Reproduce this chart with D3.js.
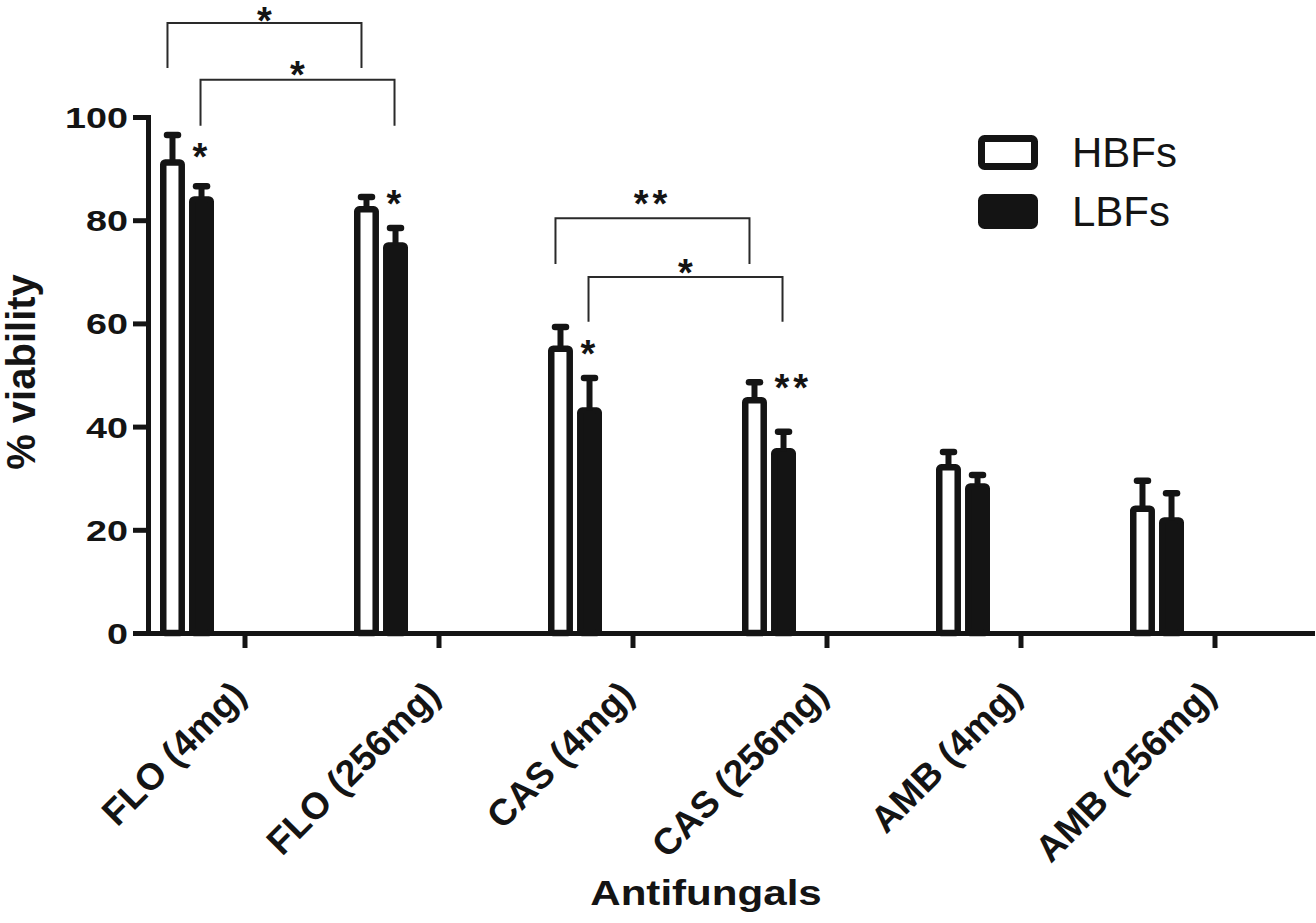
<!DOCTYPE html>
<html>
<head>
<meta charset="utf-8">
<script src="https://cdn.jsdelivr.net/npm/d3@7"></script>
<style>
  html, body { margin: 0; padding: 0; background: #ffffff; }
  svg { display: block; }
  text { font-family: Arial, "Liberation Sans", Helvetica, sans-serif; fill: #141414; }
</style>
</head>
<body>
<svg id="chart" width="1316" height="923"></svg>
<script>
// ---- data ----
const categories = ["FLO (4mg)", "FLO (256mg)", "CAS (4mg)", "CAS (256mg)", "AMB (4mg)", "AMB (256mg)"];
const seriesNames = ["HBFs", "LBFs"];
const hbfMeans  = [91.2, 82.1, 55.1, 45.1, 32.1, 24.1];
const hbfErrors = [5.3, 2.4, 4.2, 3.5, 3.0, 5.4];
const lbfMeans  = [84.0, 75.1, 43.1, 35.2, 28.4, 21.8];
const lbfErrors = [2.6, 3.4, 6.3, 3.8, 2.2, 5.3];
const yTicks = [0, 20, 40, 60, 80, 100];
const yTitle = "% viability";
const xTitle = "Antifungals";

// significance brackets (levels in % viability units)
const bracketFrom   = [["FLO (4mg)", "HBFs"], ["FLO (4mg)", "LBFs"], ["CAS (4mg)", "HBFs"], ["CAS (4mg)", "LBFs"]];
const bracketTo     = [["FLO (256mg)", "HBFs"], ["FLO (256mg)", "LBFs"], ["CAS (256mg)", "HBFs"], ["CAS (256mg)", "LBFs"]];
const bracketTop    = [118.2, 107.2, 80.4, 69.0];
const bracketBottom = [109.5, 98.3, 71.5, 60.3];
const bracketLabels = ["*", "*", "**", "*"];
const bracketLabelLevel = [120.2, 109.7, 84.7, 71.5];

// stars next to the LBF bars
const starCategories = ["FLO (4mg)", "FLO (256mg)", "CAS (4mg)", "CAS (256mg)"];
const starLabels = ["*", "*", "*", "**"];
const starLevels = [93.8, 84.7, 55.8, 49.2];

// ---- build rows ----
const rows = categories.map((c, i) => ({
  category: c,
  values: [
    { series: "HBFs", mean: hbfMeans[i], err: hbfErrors[i] },
    { series: "LBFs", mean: lbfMeans[i], err: lbfErrors[i] }
  ]
}));

const ink = "#141414";
const svg = d3.select("#chart");

const x0 = d3.scaleBand().domain(categories).range([148, 1312]);
const x1 = d3.scaleBand().domain(seriesNames).range([12, 66]).paddingInner(0.14);
const y = d3.scaleLinear().domain([0, 100]).range([633, 117]);

const barStroke = 6.5;
const bw = x1.bandwidth();
const cx = (cat, s) => x0(cat) + x1(s) + bw / 2;

// ---- bars ----
const groups = svg.append("g").selectAll("g")
  .data(rows).join("g")
  .attr("transform", d => `translate(${x0(d.category)},0)`);

groups.selectAll("rect")
  .data(d => d.values).join("rect")
  .attr("x", d => x1(d.series) + barStroke / 2)
  .attr("width", bw - barStroke)
  .attr("y", d => y(d.mean))
  .attr("height", d => y(0) - y(d.mean))
  .attr("rx", 2)
  .attr("fill", d => d.series === "HBFs" ? "#ffffff" : ink)
  .attr("stroke", ink)
  .attr("stroke-width", barStroke);

// ---- error bars (upper only) ----
groups.selectAll("line.err")
  .data(d => d.values).join("line")
  .attr("class", "err")
  .attr("x1", d => x1(d.series) + bw / 2)
  .attr("x2", d => x1(d.series) + bw / 2)
  .attr("y1", d => y(d.mean))
  .attr("y2", d => y(d.mean + d.err))
  .attr("stroke", ink)
  .attr("stroke-width", 6);

groups.selectAll("line.cap")
  .data(d => d.values).join("line")
  .attr("class", "cap")
  .attr("x1", d => x1(d.series) + bw / 2 - 5.5)
  .attr("x2", d => x1(d.series) + bw / 2 + 5.5)
  .attr("y1", d => y(d.mean + d.err))
  .attr("y2", d => y(d.mean + d.err))
  .attr("stroke", ink)
  .attr("stroke-width", 6.5)
  .attr("stroke-linecap", "round");

// ---- axes ----
const yAxis = svg.append("g")
  .attr("transform", "translate(148,0)")
  .call(d3.axisLeft(y).tickValues(yTicks).tickSize(15).tickSizeOuter(0));
yAxis.select(".domain").attr("stroke", ink).attr("stroke-width", 5).attr("stroke-linecap", "square");
yAxis.selectAll(".tick line").attr("stroke", ink).attr("stroke-width", 5);
yAxis.selectAll(".tick text")
  .attr("fill", ink)
  .attr("font-size", 29)
  .attr("font-weight", "bold")
  .attr("text-anchor", "end")
  .attr("dy", null)
  .attr("x", -20 / 1.3)
  .attr("y", 10.5)
  .attr("transform", "scale(1.3,1)");

const xAxis = svg.append("g")
  .attr("transform", "translate(0,633)")
  .call(d3.axisBottom(x0).tickSize(15).tickSizeOuter(0));
xAxis.select(".domain").attr("stroke", ink).attr("stroke-width", 5).attr("stroke-linecap", "square");
xAxis.selectAll(".tick line").attr("stroke", ink).attr("stroke-width", 5);
xAxis.selectAll(".tick text").remove();

svg.append("g").selectAll("text")
  .data(categories).join("text")
  .attr("transform", d => `translate(${x0(d) + x0.bandwidth() / 2 + 3},697) rotate(-45)`)
  .attr("text-anchor", "end")
  .attr("font-size", 37)
  .attr("font-weight", "bold")
  .text(d => d);

// axis titles
svg.append("text")
  .attr("transform", "translate(706,905) scale(1.17,1)")
  .attr("text-anchor", "middle")
  .attr("font-size", 36)
  .attr("font-weight", "bold")
  .text(xTitle);

svg.append("text")
  .attr("transform", "translate(35,372) rotate(-90)")
  .attr("text-anchor", "middle")
  .attr("font-size", 40)
  .attr("font-weight", "bold")
  .text(yTitle);

// ---- significance brackets ----
const starSize = 38;
const bracketG = svg.append("g");
bracketLabels.forEach((lab, i) => {
  const f = bracketFrom[i], t = bracketTo[i];
  const off = s => s === "HBFs" ? -5 : -1;
  const xa = cx(f[0], f[1]) + off(f[1]);
  const xb = cx(t[0], t[1]) + off(t[1]);
  const line = d3.line();
  bracketG.append("path")
    .attr("d", line([[xa, y(bracketBottom[i])], [xa, y(bracketTop[i])], [xb, y(bracketTop[i])], [xb, y(bracketBottom[i])]]))
    .attr("fill", "none")
    .attr("stroke", "#2a2a2a")
    .attr("stroke-width", 2);
  bracketG.append("text")
    .attr("x", (xa + xb) / 2)
    .attr("y", y(bracketLabelLevel[i]) + 0.565 * starSize)
    .attr("text-anchor", "middle")
    .attr("font-size", starSize)
    .attr("font-weight", "bold")
    .attr("letter-spacing", lab.length > 1 ? 4 : 0)
    .text(lab);
});

// stars beside LBF bars
svg.append("g").selectAll("text")
  .data(starCategories).join("text")
  .attr("x", d => cx(d, "LBFs") - 9)
  .attr("y", (d, i) => y(starLevels[i]) + 0.565 * starSize)
  .attr("font-size", starSize)
  .attr("font-weight", "bold")
  .attr("letter-spacing", (d, i) => starLabels[i].length > 1 ? 4 : 0)
  .text((d, i) => starLabels[i]);

// ---- legend ----
const legend = svg.append("g");
seriesNames.forEach((s, i) => {
  const top = 135 + i * 59;
  legend.append("rect")
    .attr("x", 978 + 3.5).attr("y", top + 3.5)
    .attr("width", 60 - 7).attr("height", 35 - 7)
    .attr("rx", 3)
    .attr("fill", s === "HBFs" ? "#ffffff" : ink)
    .attr("stroke", ink)
    .attr("stroke-width", 7);
  legend.append("text")
    .attr("x", 1072).attr("y", top + 32)
    .attr("font-size", 42)
    .text(s);
});
</script>
</body>
</html>
